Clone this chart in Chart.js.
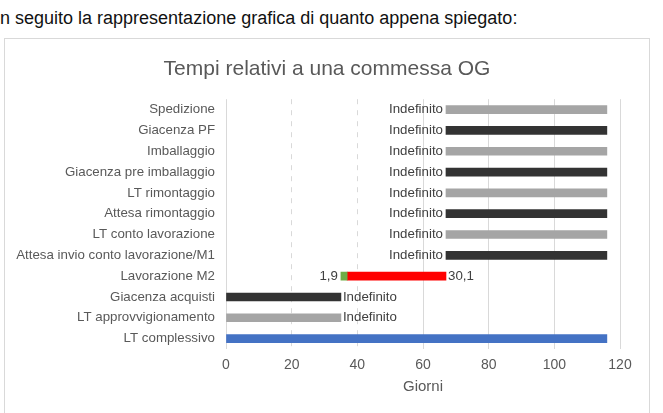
<!DOCTYPE html>
<html>
<head>
<meta charset="utf-8">
<script src="https://cdn.jsdelivr.net/npm/chart.js@4"></script>
<style>
  body { margin: 0; background: #fff; width: 663px; height: 413px; overflow: hidden; position: relative; font-family: "Liberation Sans", Arial, sans-serif; }
  #intro { position: absolute; left: 0; top: 8px; font-size: 18px; color: #111; white-space: nowrap; }
  #box { position: absolute; left: 4px; top: 38px; width: 644px; height: 398px; border: 1px solid #d9d9d9; }
</style>
</head>
<body>
<div id="intro">n seguito la rappresentazione grafica di quanto appena spiegato:</div>
<div id="box"><canvas id="grafico"></canvas></div>
<script>
// categorie dall'alto verso il basso
const categorie = [
  'Spedizione',
  'Giacenza PF',
  'Imballaggio',
  'Giacenza pre imballaggio',
  'LT rimontaggio',
  'Attesa rimontaggio',
  'LT conto lavorazione',
  'Attesa invio conto lavorazione/M1',
  'Lavorazione M2',
  'Giacenza acquisti',
  'LT approvvigionamento',
  'LT complessivo'
];

// giorni di inizio e durate
const inizio = [67, 67, 67, 67, 67, 67, 67, 67, 35, 0, 0, 0];
const fase1 = [49, 49, 49, 49, 49, 49, 49, 49, 1.9, 35, 35, 116];
const fase2 = [null, null, null, null, null, null, null, null, 30.1, null, null, null];

const etichette1 = ['Indefinito', 'Indefinito', 'Indefinito', 'Indefinito', 'Indefinito', 'Indefinito',
  'Indefinito', 'Indefinito', '1,9', 'Indefinito', 'Indefinito', ''];
const etichette2 = ['', '', '', '', '', '', '', '', '30,1', '', '', ''];

const tickGiorni = [0, 20, 40, 60, 80, 100, 120];

const colori1 = ['#a5a5a5', '#333333', '#a5a5a5', '#333333', '#a5a5a5', '#333333',
  '#a5a5a5', '#333333', '#70ad47', '#333333', '#a5a5a5', '#4472c4'];

Chart.defaults.font.family = '"Liberation Sans", Arial, sans-serif';
Chart.defaults.color = '#595959';

// etichette accanto alle barre
const etichettePlugin = {
  id: 'etichette',
  afterDatasetsDraw(chart) {
    const ctx = chart.ctx;
    ctx.save();
    ctx.font = '13.3px "Liberation Sans", Arial, sans-serif';
    ctx.fillStyle = '#404040';
    ctx.textBaseline = 'middle';
    chart.data.datasets.forEach((ds, di) => {
      const meta = chart.getDatasetMeta(di);
      meta.data.forEach((bar, i) => {
        const testo = ds.etichette[i];
        if (!testo || ds.data[i] == null) return;
        const sx = Math.min(bar.x, bar.base);
        const dx = Math.max(bar.x, bar.base);
        if (di === 0 && inizio[i] > 0) {
          ctx.textAlign = 'right';
          ctx.fillText(testo, sx - 3, bar.y);
        } else {
          ctx.textAlign = 'left';
          ctx.fillText(testo, dx + 2, bar.y);
        }
      });
    });
    ctx.restore();
  }
};

new Chart(document.getElementById('grafico'), {
  type: 'bar',
  data: {
    labels: categorie,
    datasets: [{
      data: categorie.map((c, i) => [inizio[i], inizio[i] + fase1[i]]),
      etichette: etichette1,
      backgroundColor: colori1,
      barThickness: 8,
      grouped: false
    }, {
      data: categorie.map((c, i) => fase2[i] == null ? null : [inizio[i] + fase1[i], inizio[i] + fase1[i] + fase2[i]]),
      etichette: etichette2,
      backgroundColor: '#ff0000',
      barThickness: 8,
      grouped: false
    }]
  },
  options: {
    indexAxis: 'y',
    responsive: true,
    maintainAspectRatio: false,
    animation: false,
    layout: { padding: { left: 0, right: 0, top: 0, bottom: 41 } },
    plugins: {
      legend: { display: false },
      tooltip: { enabled: false },
      title: {
        display: true,
        text: 'Tempi relativi a una commessa OG',
        color: '#595959',
        font: { size: 21, weight: 'normal' },
        padding: { top: 18, bottom: 17 }
      }
    },
    scales: {
      x: {
        min: 0,
        max: 120,
        afterBuildTicks: (scale) => { scale.ticks = tickGiorni.map(v => ({ value: v })); },
        afterFit: (scale) => { scale.height = 47; },
        grid: { color: '#d9d9d9', drawTicks: false },
        border: {
          display: false,
          dash: (ctx) => (ctx.tick && (ctx.tick.value === 20 || ctx.tick.value === 40)) ? [5, 6] : []
        },
        ticks: { padding: 8, font: { size: 14 }, color: '#595959' },
        title: { display: true, text: 'Giorni', font: { size: 15 }, color: '#595959', padding: 0 }
      },
      y: {
        afterFit: (scale) => { scale.width = 221; },
        grid: { display: false, drawTicks: false },
        border: { display: false },
        ticks: { padding: 11, font: { size: 13.3 }, color: '#595959', autoSkip: false }
      },
      // spazio vuoto a destra dell'area del grafico
      margine: {
        type: 'category',
        position: 'right',
        afterFit: (scale) => { scale.width = 29; },
        grid: { display: false, drawTicks: false },
        border: { display: false },
        ticks: { display: false }
      }
    }
  },
  plugins: [etichettePlugin]
});
</script>
</body>
</html>
